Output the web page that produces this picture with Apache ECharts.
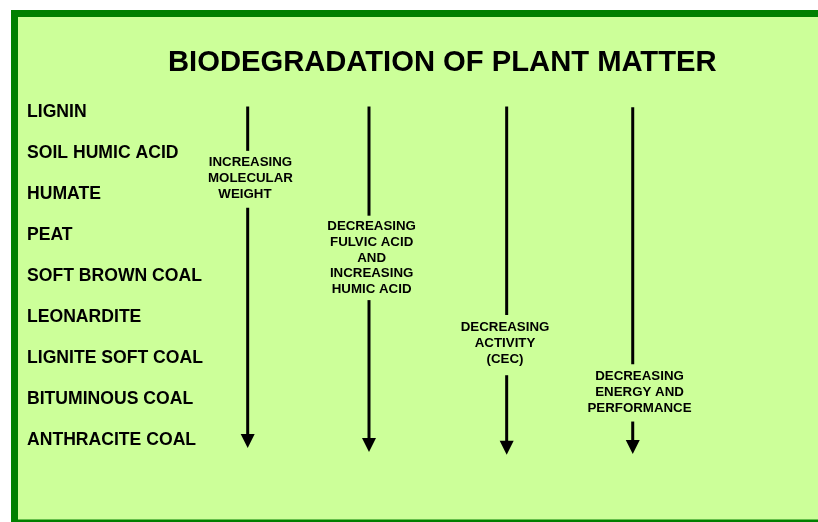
<!DOCTYPE html>
<html>
<head>
<meta charset="utf-8">
<script src="https://cdn.jsdelivr.net/npm/echarts@6/dist/echarts.min.js"></script>
<style>html,body{margin:0;padding:0;background:#fff}#c{width:818px;height:522px}</style>
</head>
<body>
<div id="c"></div>
<script>
// Stages of plant-matter biodegradation (top to bottom)
const stages = ['LIGNIN', 'SOIL HUMIC ACID', 'HUMATE', 'PEAT', 'SOFT BROWN COAL', 'LEONARDITE', 'LIGNITE SOFT COAL', 'BITUMINOUS COAL', 'ANTHRACITE COAL'];
// Arrow captions
const arrowLabels = [
  'INCREASING\nMOLECULAR\nWEIGHT   ',
  'DECREASING\nFULVIC ACID\nAND\nINCREASING\nHUMIC ACID',
  'DECREASING\nACTIVITY\n(CEC)',
  'DECREASING\nENERGY AND\nPERFORMANCE'
];
// Arrow columns (percent of width) and stage positions (stage index units)
const arrowX      = [30.28, 45.11, 61.94, 77.35];
const arrowTop    = [-0.145, -0.145, -0.145, -0.13];
const gapStart    = [0.938, 2.521, 4.945, 6.15];
const gapEnd      = [2.327, 4.582, 6.416, 7.547];
const arrowTip    = [8.194, 8.291, 8.356, 8.339];
const captionX    = [30.62, 45.43, 61.74, 78.18];
const captionY    = [1.612, 3.552, 5.641, 6.83];

const FONT = '"Liberation Sans", Arial, sans-serif';
const arrowData = arrowX.map((x, i) => [x, arrowTop[i], gapStart[i], gapEnd[i], arrowTip[i], captionX[i], captionY[i]]);

const chart = echarts.init(document.getElementById('c'), null, {renderer: 'canvas'});
chart.setOption({
  backgroundColor: '#ffffff',
  animation: false,
  graphic: [{
    type: 'rect', z: -10, silent: true,
    shape: {x: 14.5, y: 13.5, width: 900, height: 509.5},
    style: {fill: '#CCFF99', stroke: '#008000', lineWidth: 7}
  }],
  title: {
    text: 'BIODEGRADATION OF PLANT MATTER',
    left: 168, top: 48.5, padding: 0,
    textStyle: {fontFamily: FONT, fontWeight: 'bold', fontSize: 29.2, color: '#000'}
  },
  grid: {left: 0, width: 818, top: 71.5, height: 453.75, containLabel: false},
  xAxis: {type: 'value', min: 0, max: 100, show: false},
  yAxis: {
    type: 'value', inverse: true, min: -1, max: 10, interval: 1,
    axisLine: {show: false}, axisTick: {show: false}, splitLine: {show: false},
    axisLabel: {
      inside: true, margin: 27,
      fontFamily: FONT, fontWeight: 'bold', fontSize: 17.6, color: '#000',
      formatter: v => stages[v] || ''
    }
  },
  series: [{
    type: 'custom',
    coordinateSystem: 'cartesian2d',
    encode: {x: [0, 5], y: [1, 2, 3, 4, 6]},
    data: arrowData,
    renderItem: function (params, api) {
      const x = api.value(0);
      const p0 = api.coord([x, api.value(1)]);
      const p1 = api.coord([x, api.value(2)]);
      const p2 = api.coord([x, api.value(3)]);
      const tip = api.coord([x, api.value(4)]);
      const lp = api.coord([api.value(5), api.value(6)]);
      const head = 14, half = 7;
      const lineStyle = {stroke: '#000', lineWidth: 3};
      return {
        type: 'group',
        children: [
          {type: 'line', shape: {x1: p0[0], y1: p0[1], x2: p1[0], y2: p1[1]}, style: lineStyle},
          {type: 'line', shape: {x1: p2[0], y1: p2[1], x2: tip[0], y2: tip[1] - head + 1}, style: lineStyle},
          {type: 'polygon', shape: {points: [[tip[0] - half, tip[1] - head], [tip[0] + half, tip[1] - head], [tip[0], tip[1]]]}, style: {fill: '#000'}},
          {type: 'text', x: lp[0], y: lp[1], style: {
            text: arrowLabels[params.dataIndex],
            fontFamily: FONT, fontWeight: 'bold', fontSize: 13.3, lineHeight: 15.7,
            fill: '#000', align: 'center', verticalAlign: 'middle'
          }}
        ]
      };
    }
  }]
});
</script>
</body>
</html>
